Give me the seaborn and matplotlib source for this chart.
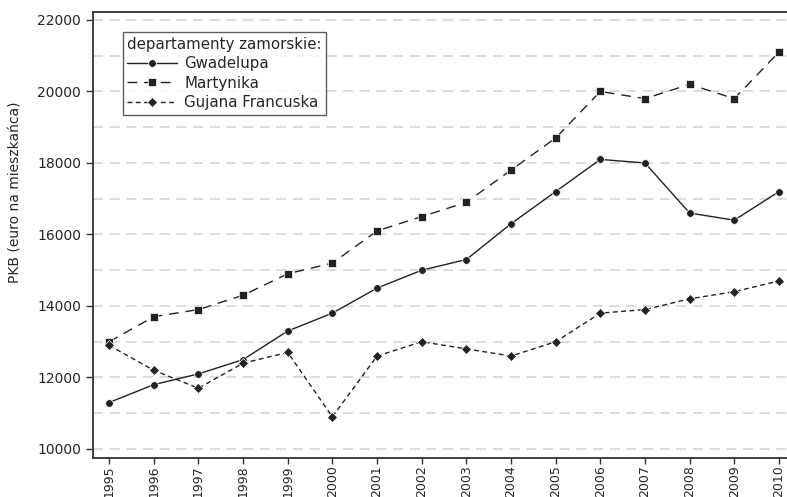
import pandas as pd
import seaborn as sns
import matplotlib.pyplot as plt

years = list(range(1995, 2011))
gwadelupa = [11300, 11800, 12100, 12500, 13300, 13800, 14500, 15000,
             15300, 16300, 17200, 18100, 18000, 16600, 16400, 17200]
martynika = [13000, 13700, 13900, 14300, 14900, 15200, 16100, 16500,
             16900, 17800, 18700, 20000, 19800, 20200, 19800, 21100]
gujana = [12900, 12200, 11700, 12400, 12700, 10900, 12600, 13000,
          12800, 12600, 13000, 13800, 13900, 14200, 14400, 14700]
series_names = ["Gwadelupa", "Martynika", "Gujana Francuska"]

df = pd.DataFrame({"rok": years * 3,
                   "pkb": gwadelupa + martynika + gujana,
                   "region": [n for n in series_names for _ in years]})

sns.set_style("white")
plt.rcParams["font.family"] = ["DejaVu Sans"]

fig = plt.figure(figsize=(7.87, 4.97), dpi=100)
ax = fig.add_axes([0.1182, 0.0785, 0.892, 0.8974])

styles = {
    "Gwadelupa": dict(marker="o", linestyle="-", markersize=5.5),
    "Martynika": dict(marker="s", linestyle=(0, (7, 5)), markersize=5.5),
    "Gujana Francuska": dict(marker="D", linestyle=(0, (3.5, 2.5)), markersize=5),
}
for name in series_names:
    sub = df[df["region"] == name]
    sns.lineplot(data=sub, x="rok", y="pkb", ax=ax, color="#222222",
                 linewidth=1.0, label=name, markeredgewidth=0.5,
                 **styles[name])

ax.set_xlim(1994.64, 2010.36)
ax.set_ylim(9748, 22224)
ax.set_xticks(years)
ax.set_xticklabels([str(y) for y in years], rotation=90, fontsize=9)
ax.set_yticks(range(10000, 22001, 2000))
ax.set_yticks(range(11000, 22000, 2000), minor=True)
ax.tick_params(axis="y", labelsize=10)
ax.tick_params(axis="both", which="major", direction="out", length=5,
               width=1, color="#333333", left=True, bottom=True)
ax.tick_params(axis="x", pad=1.5, length=4)
ax.tick_params(axis="y", which="minor", direction="out", length=0)
ax.grid(axis="y", which="both", color="#d6d6d6", linestyle=(0, (6, 4)),
        linewidth=1.2)
ax.set_axisbelow(True)
ax.set_xlabel("")
ax.set_ylabel("PKB (euro na mieszkańca)", fontsize=10)
ax.yaxis.set_label_coords(-0.100, 0.596)

for side in ["left", "bottom", "top"]:
    ax.spines[side].set_color("#333333")
    ax.spines[side].set_linewidth(1.3)
ax.spines["right"].set_visible(False)

leg = ax.legend(title="departamenty zamorskie:", loc="upper left",
                bbox_to_anchor=(0.042, 0.955), fontsize=10.8,
                title_fontsize=10.8, handlelength=3.3, frameon=True,
                fancybox=False, edgecolor="#333333", borderpad=0.3,
                labelspacing=0.3, handletextpad=0.5, borderaxespad=0)
leg.get_frame().set_linewidth(1.0)
leg._legend_box.align = "left"

fig.savefig("out.png", dpi=100)
